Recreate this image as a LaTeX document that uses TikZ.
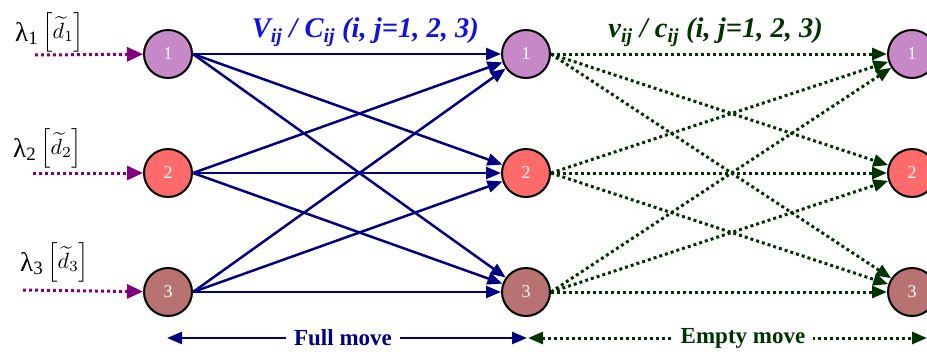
\documentclass[tikz,border=0pt]{standalone}
\usepackage{fontspec}
\usepackage{graphicx}
\setmainfont{Liberation Serif}
\usetikzlibrary{arrows.meta}
\definecolor{navyc}{HTML}{000080}
\definecolor{titleblue}{HTML}{1010E0}
\definecolor{dgreen}{HTML}{003300}
\definecolor{purp}{HTML}{800080}
\definecolor{c1}{HTML}{C688C6}
\definecolor{c2}{HTML}{FF6B6B}
\definecolor{c3}{HTML}{B87272}
\tikzset{
  city/.style={circle, draw=black, line width=2pt, minimum size=48pt, inner sep=0pt,
    text=white, font=\fontsize{18}{18}\selectfont},
  full/.style={draw=navyc, line width=2.5pt, -{Triangle[length=15pt,width=12pt]}},
  empty/.style={draw=dgreen, line width=3pt, dash pattern=on 3pt off 3pt, -{Triangle[length=15pt,width=12pt]}},
  demand/.style={draw=purp, line width=3pt, dash pattern=on 3pt off 3pt, -{Triangle[length=16pt,width=14pt]}},
  lab/.style={font=\fontsize{27}{27}\selectfont, inner sep=0pt, anchor=base west},
  title/.style={font=\fontsize{28.5}{29}\selectfont\bfseries\itshape, inner sep=0pt, anchor=base east},
  bottom/.style={font=\fontsize{23}{23}\selectfont\bfseries, fill=white, inner xsep=8pt, inner ysep=1pt}
}
\newcommand{\demlab}[1]{λ\textsubscript{#1}\hspace{4pt}\raisebox{3pt}{\scalebox{2.2}{\fontsize{10}{12}\selectfont$\Big[\widetilde{d}_{#1}\Big]$}}}
\begin{document}
\begin{tikzpicture}[x=1pt,y=-1pt]
\useasboundingbox (0,0) rectangle (927,354);
\clip (0,0) rectangle (927,354);
% nodes
\node[city, fill=c1] (l1) at (168,54) {1};
\node[city, fill=c2] (l2) at (168,173) {2};
\node[city, fill=c3] (l3) at (168,292) {3};
\node[city, fill=c1] (m1) at (526,54) {1};
\node[city, fill=c2] (m2) at (526,173) {2};
\node[city, fill=c3] (m3) at (526,292) {3};
\node[city, fill=c1] (r1) at (912,54) {1};
\node[city, fill=c2] (r2) at (912,173) {2};
\node[city, fill=c3] (r3) at (912,292) {3};
% demand labels
\node[lab] (d1) at (15,41) {\demlab{1}};
\node[lab] (d2) at (13,157) {\demlab{2}};
\node[lab] (d3) at (20,271) {\demlab{3}};
\coordinate (s1) at (35,55);
\coordinate (s2) at (33,173);
\coordinate (s3) at (23,290);
\draw[demand] (s1) -- (l1);
\draw[demand] (s2) -- (l2);
\draw[demand] (s3) -- (l3);
% full moves
\foreach \i in {1,2,3}{\foreach \j in {1,2,3}{\draw[full] (l\i.east) -- (m\j);}}
% empty moves
\foreach \i in {1,2,3}{\foreach \j in {1,2,3}{\draw[empty] (m\i.east) -- (r\j);}}
% titles
\node[title, text=titleblue] (t1) at (479,37) {V\textsubscript{ij} / C\textsubscript{ij} (i, j=1, 2, 3)};
\node[title, text=dgreen] (t2) at (823,37) {v\textsubscript{ij} / c\textsubscript{ij} (i, j=1, 2, 3)};
% bottom
\coordinate (fa) at (167,338);
\coordinate (fb) at (527,338);
\coordinate (ea) at (528,338);
\coordinate (eb) at (927,338);
\draw[navyc, line width=2.5pt, {Triangle[length=15pt,width=12pt]}-{Triangle[length=15pt,width=12pt]}] (fa) -- (fb);
\draw[dgreen, line width=3pt, dash pattern=on 3pt off 3pt, {Triangle[length=15pt,width=12pt]}-{Triangle[length=15pt,width=12pt]}] (ea) -- (eb);
\node[bottom, text=navyc] (fm) at (343,338) {Full move};
\node[bottom, text=dgreen] (em) at (743,338) {Empty move};
\end{tikzpicture}
\end{document}
